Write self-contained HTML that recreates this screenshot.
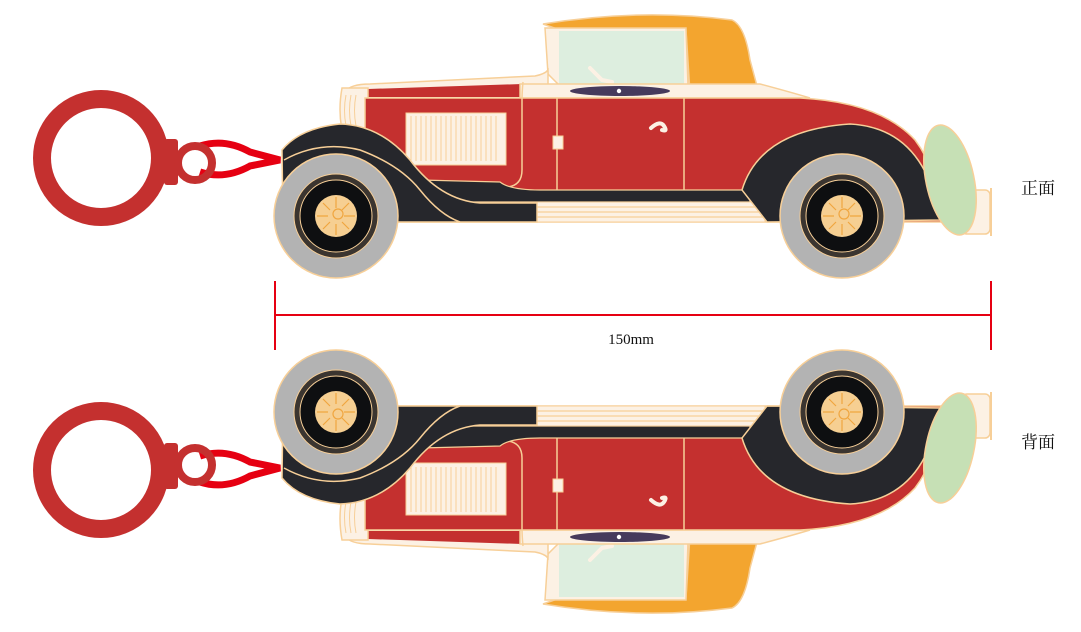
<!DOCTYPE html>
<html><head><meta charset="utf-8"><style>
html,body{margin:0;padding:0;background:#fff;width:1081px;height:632px;overflow:hidden}
svg{display:block}
</style></head><body>
<svg width="1081" height="632" viewBox="0 0 1081 632" xmlns="http://www.w3.org/2000/svg">
<defs>
<g id="car">
  <circle cx="101" cy="158" r="59" fill="none" stroke="#c4302f" stroke-width="18"/>
  <rect x="164" y="139" width="14" height="46" rx="3" fill="#c4302f"/>
  <path d="M200,146 Q225,138 250,152 L280,160 L250,166 Q225,180 200,172" fill="none" stroke="#e60012" stroke-width="7"/>
  <circle cx="195" cy="163" r="17" fill="none" stroke="#c4302f" stroke-width="8"/>
  <path d="M543,24 Q640,8 732,20 Q745,26 750,60 L757,86 Q757,93 748,93 L690,93 L686,30 L560,30 Z" fill="#f3a52f" stroke="#f7cf98" stroke-width="1.5"/>
  <path d="M545,28 L686,28 L688,86 L560,86 L548,74 Z" fill="#fcf1e4" stroke="#f7cf98" stroke-width="1.5"/>
  <rect x="559" y="31" width="125" height="53" fill="#ddeedf"/>
  <path d="M590,68 L602,80 L612,82" fill="none" stroke="#fcf1e4" stroke-width="4" stroke-linecap="round"/>
  <path d="M345,92 Q350,84 370,84 L535,76 Q545,74 548,70 L548,98 L345,100 Z" fill="#fcf1e4" stroke="#f7cf98" stroke-width="1.5"/>
  <path d="M368,89 L522,84 L522,97 L368,97 Z" fill="#c4302f"/>
  <path d="M520,84 L760,84 Q790,92 810,98 L520,98 Z" fill="#fcf1e4" stroke="#f7cf98" stroke-width="1.5"/>
  <ellipse cx="620" cy="91" rx="50" ry="5" fill="#463a5c"/>
  <circle cx="619" cy="91" r="2.2" fill="#fff"/>
  <path d="M342,88 Q338,110 342,130 L368,130 L368,88 Z" fill="#fcf1e4" stroke="#f7cf98" stroke-width="1.5"/>
  <path d="M346,95 Q343,110 346,126 M351,95 Q348,110 351,126 M356,95 Q353,110 356,126" fill="none" stroke="#f7cf98" stroke-width="1"/>
  <path d="M365,98 L800,98 Q880,102 915,140 Q938,170 942,222 L365,222 Z" fill="#c4302f" stroke="#f7cf98" stroke-width="1.5"/>
  <path d="M523,82 Q522,92 522,100 L522,170 Q522,185 508,187" fill="none" stroke="#f7cf98" stroke-width="1.5"/>
  <rect x="406" y="113" width="100" height="52" fill="#fcf1e4" stroke="#f7cf98"/>
  <g stroke="#f7cf98" stroke-width="1">
    <path d="M411,116V161M416,116V161M421,116V161M426,116V161M431,116V161M436,116V161M441,116V161M446,116V161M451,116V161M456,116V161M461,116V161M466,116V161M471,116V161M476,116V161M481,116V161M486,116V161M491,116V161M496,116V161"/>
  </g>
  <path d="M557,98V190 M684,98V190" stroke="#f7cf98" stroke-width="1.5"/>
  <rect x="553" y="136" width="10" height="13" fill="#fcf1e4" stroke="#f7cf98"/>
  <path d="M651,128 Q660,120 664,126 Q668,132 662,130" fill="none" stroke="#fcf1e4" stroke-width="4" stroke-linecap="round"/>
  <path d="M420,180 L500,182 Q510,190 540,190 L750,190 L750,202 L420,202 Z" fill="#26272c" stroke="#f7cf98" stroke-width="1.2"/>
  <rect x="537" y="202" width="228" height="20" fill="#fcf1e4" stroke="#f7cf98"/>
  <path d="M537,207H765M537,212H765M537,217H765" stroke="#f7cf98" stroke-width="1.2"/>
  <path d="M282,150 Q300,128 340,124 Q380,125 410,160 Q440,200 480,203 L537,203 L537,222 L283,222 Z" fill="#26272c" stroke="#f7cf98" stroke-width="1.5"/>
  <path d="M284,160 Q320,140 360,150 Q400,165 420,190 Q440,215 460,222" fill="none" stroke="#f7cf98" stroke-width="1.5"/>
  <path d="M742,190 Q760,130 850,124 Q925,128 940,220 L767,222 Z" fill="#26272c" stroke="#f7cf98" stroke-width="1.5"/>
  <rect x="962" y="190" width="28" height="44" rx="5" fill="#fcf1e4" stroke="#f7cf98" stroke-width="1.5"/>
  <path d="M991,188V236" stroke="#f7cf98" stroke-width="2"/>
  <ellipse cx="950" cy="180" rx="24" ry="56" transform="rotate(-12 950 180)" fill="#c6e0b5" stroke="#f7cf98" stroke-width="1.5"/>
  <g id="w">
    <circle cx="336" cy="216" r="62" fill="#b3b3b3" stroke="#f7cf98" stroke-width="1.5"/>
    <circle cx="336" cy="216" r="42" fill="#3b3530" stroke="#f7cf98" stroke-width="1"/>
    <circle cx="336" cy="216" r="36" fill="#0e0f11" stroke="#f7cf98" stroke-width="1"/>
    <circle cx="336" cy="216" r="21" fill="#f6cf92"/>
    <g stroke="#f0a640" stroke-width="1.2" fill="none">
      <circle cx="338" cy="214" r="5"/>
      <path d="M336,197V208M336,224V235M317,216H328M344,216H355M323,203L330,210M342,222L349,229M349,203L342,210M330,222L323,229"/>
    </g>
  </g>
  <use href="#w" transform="translate(506,0)"/>
</g>
</defs>
<use href="#car"/>
<use href="#car" transform="translate(0,628) scale(1,-1)"/>
<path d="M275,281V350M991,281V350M275,315H991" stroke="#e60012" stroke-width="2"/>
<text x="631" y="344" font-family="Liberation Serif, serif" font-size="15" text-anchor="middle" fill="#111">150mm</text>
<text x="1038" y="194" font-family="Liberation Serif, 'Noto Serif CJK SC', serif" font-size="17" text-anchor="middle" fill="#111">正面</text>
<text x="1038" y="448" font-family="Liberation Serif, 'Noto Serif CJK SC', serif" font-size="17" text-anchor="middle" fill="#111">背面</text>
</svg>
</body></html>
